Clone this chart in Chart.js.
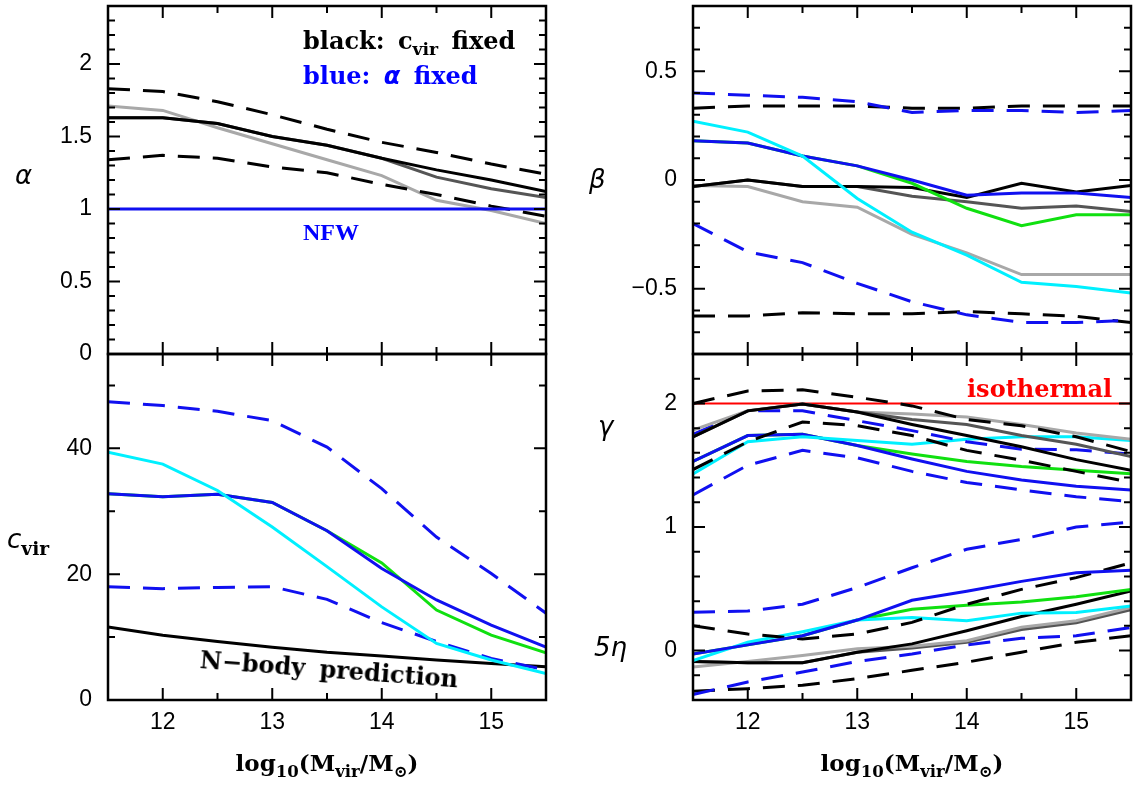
<!DOCTYPE html>
<html>
<head>
<meta charset="utf-8">
<script src="https://cdn.jsdelivr.net/npm/chart.js@4/dist/chart.umd.min.js"></script>
<style>
body { margin: 0; background: #fff; }
#page { position: relative; width: 1136px; height: 787px; overflow: hidden; background: #fff; }
canvas { position: absolute; }
.t { position: absolute; font-family: "DejaVu Serif", serif; font-weight: bold; font-size: 24px; line-height: 1; white-space: nowrap; color: #000; }
.t sub { font-size: 0.72em; vertical-align: -0.35em; line-height: 0; }
.g { font-family: "DejaVu Sans", sans-serif; font-style: italic; font-weight: normal; font-size: 26px; }
</style>
</head>
<body>
<div id="page">
  <canvas id="alphaChart" width="570" height="362" style="left:0;top:0"></canvas>
  <canvas id="cvirChart" width="570" height="447" style="left:0;top:340px"></canvas>
  <canvas id="betaChart" width="551" height="362" style="left:585px;top:0"></canvas>
  <canvas id="gammaChart" width="551" height="447" style="left:585px;top:340px"></canvas>

  <div class="t" style="left:303px;top:29px;word-spacing:5px">black: c<sub>vir</sub> fixed</div>
  <div class="t" style="left:303px;top:64px;word-spacing:5px;color:#0000ff">blue: <span style="font-family:'DejaVu Sans';font-style:italic">α</span> fixed</div>
  <div class="t" style="left:303px;top:220px;color:#0000ff;font-family:'Liberation Serif',serif;font-size:24px">NFW</div>
  <div class="t" style="left:200px;top:648px;word-spacing:6px;transform:rotate(4.3deg);transform-origin:left center">N−body prediction</div>
  <div class="t" style="left:967px;top:377px;color:#ff0000">isothermal</div>
  <div class="t" style="left:177px;top:751px;width:300px;text-align:center;font-size:23px">log<sub>10</sub>(M<sub>vir</sub>/M<sub>⊙</sub>)</div>
  <div class="t" style="left:762px;top:751px;width:300px;text-align:center;font-size:23px">log<sub>10</sub>(M<sub>vir</sub>/M<sub>⊙</sub>)</div>
  <div class="t g" style="left:15px;top:162px">α</div>
  <div class="t g" style="left:7px;top:526px">c<sub style="font-family:'DejaVu Serif';font-style:normal;font-weight:bold">vir</sub></div>
  <div class="t g" style="left:589px;top:166px">β</div>
  <div class="t g" style="left:598px;top:413px">γ</div>
  <div class="t g" style="left:594px;top:634px">5η</div>
</div>
<script>
// log10(Mvir/Msun) sample points
const mass = [11.5, 12, 12.5, 13, 13.5, 14, 14.5, 15, 15.5];
const massTicks = [12, 13, 14, 15];

// alpha panel
const alphaDashHi   = [1.83, 1.81, 1.74, 1.65, 1.55, 1.46, 1.39, 1.31, 1.24];
const alphaBlack    = [1.63, 1.63, 1.59, 1.50, 1.44, 1.35, 1.27, 1.20, 1.12];
const alphaDarkGray = [1.63, 1.63, 1.59, 1.50, 1.44, 1.35, 1.22, 1.14, 1.08];
const alphaLightGray= [1.71, 1.68, 1.56, 1.45, 1.34, 1.23, 1.06, 0.99, 0.90];
const alphaDashLo   = [1.34, 1.37, 1.35, 1.29, 1.25, 1.17, 1.10, 1.02, 0.95];
const alphaNFW      = [1, 1, 1, 1, 1, 1, 1, 1, 1];
const alphaTicks = [0, 0.5, 1, 1.5, 2];

// concentration panel
const cvirBlueDashHi = [47.4, 46.8, 45.9, 44.4, 40.2, 33.6, 25.9, 20.1, 13.8];
const cvirCyan       = [39.4, 37.5, 33.3, 27.5, 21.2, 14.8, 9.0, 6.35, 4.2];
const cvirBlue       = [32.8, 32.3, 32.7, 31.4, 26.9, 20.9, 15.9, 11.9, 8.4];
const cvirGreen      = [32.8, 32.3, 32.7, 31.4, 26.9, 21.8, 14.3, 10.3, 7.5];
const cvirBlueDashLo = [18.0, 17.7, 17.9, 18.0, 16.0, 12.3, 9.3, 6.6, 4.8];
const cvirNbody      = [11.6, 10.3, 9.3, 8.4, 7.6, 7.0, 6.35, 5.8, 5.3];
const cvirTicks = [0, 20, 40];

// beta panel
const betaBlueDashHi  = [0.40, 0.39, 0.38, 0.36, 0.31, 0.32, 0.32, 0.31, 0.32];
const betaBlackDashHi = [0.33, 0.34, 0.34, 0.34, 0.33, 0.33, 0.34, 0.34, 0.34];
const betaCyan        = [0.27, 0.22, 0.11, -0.085, -0.24, -0.345, -0.47, -0.49, -0.52];
const betaBlue        = [0.18, 0.17, 0.11, 0.065, 0.0, -0.07, -0.06, -0.06, -0.08];
const betaGreen       = [0.18, 0.17, 0.11, 0.065, -0.015, -0.13, -0.21, -0.16, -0.16];
const betaBlack       = [-0.03, 0.0, -0.03, -0.03, -0.035, -0.08, -0.015, -0.055, -0.025];
const betaDarkGray    = [-0.03, 0.0, -0.03, -0.03, -0.075, -0.10, -0.13, -0.12, -0.145];
const betaLightGray   = [-0.025, -0.03, -0.10, -0.125, -0.25, -0.335, -0.435, -0.435, -0.435];
const betaBlueDashLo  = [-0.20, -0.33, -0.38, -0.475, -0.56, -0.62, -0.655, -0.655, -0.645];
const betaBlackDashLo = [-0.625, -0.625, -0.61, -0.615, -0.615, -0.605, -0.615, -0.627, -0.655];
const betaTicks = [-0.5, 0, 0.5];

// gamma panel
const gammaIso         = [2, 2, 2, 2, 2, 2, 2, 2, 2];
const gammaBlackDashHi = [2.00, 2.10, 2.11, 2.05, 1.98, 1.87, 1.82, 1.73, 1.61];
const gammaLightGray   = [1.785, 1.94, 1.995, 1.93, 1.915, 1.89, 1.83, 1.76, 1.71];
const gammaBlack       = [1.73, 1.94, 1.995, 1.93, 1.83, 1.74, 1.65, 1.545, 1.46];
const gammaDarkGray    = [1.73, 1.94, 1.995, 1.93, 1.87, 1.83, 1.74, 1.67, 1.57];
const gammaBlueDashHi  = [1.75, 1.94, 1.94, 1.86, 1.78, 1.69, 1.63, 1.625, 1.59];
const gammaBlackDashLo = [1.465, 1.69, 1.85, 1.82, 1.74, 1.62, 1.54, 1.45, 1.36];
const gammaBlue        = [1.53, 1.74, 1.75, 1.66, 1.55, 1.45, 1.38, 1.33, 1.30];
const gammaCyan        = [1.43, 1.69, 1.73, 1.70, 1.67, 1.71, 1.73, 1.73, 1.70];
const gammaGreen       = [1.53, 1.74, 1.75, 1.66, 1.59, 1.53, 1.49, 1.46, 1.43];
const gammaBlueDashLo  = [1.26, 1.50, 1.62, 1.56, 1.45, 1.36, 1.30, 1.245, 1.205];

// 5 eta (same panel)
const etaBlueDashHi  = [0.31, 0.32, 0.375, 0.51, 0.67, 0.82, 0.90, 1.00, 1.04];
const etaBlue        = [-0.027, 0.046, 0.12, 0.247, 0.407, 0.48, 0.56, 0.63, 0.65];
const etaBlackDashHi = [0.20, 0.134, 0.094, 0.134, 0.228, 0.375, 0.495, 0.59, 0.71];
const etaGreen       = [-0.027, 0.046, 0.12, 0.247, 0.335, 0.367, 0.394, 0.436, 0.495];
const etaCyan        = [-0.08, 0.067, 0.153, 0.247, 0.268, 0.241, 0.303, 0.308, 0.361];
const etaBlack       = [-0.088, -0.099, -0.099, -0.013, 0.054, 0.161, 0.276, 0.375, 0.482];
const etaDarkGray    = [-0.088, -0.099, -0.099, -0.013, 0.02, 0.067, 0.17, 0.225, 0.33];
const etaLightGray   = [-0.134, -0.088, -0.04, 0.014, 0.035, 0.08, 0.188, 0.241, 0.348];
const etaBlueDashLo  = [-0.356, -0.254, -0.174, -0.088, -0.027, 0.046, 0.099, 0.12, 0.187];
const etaBlackDashLo = [-0.33, -0.308, -0.281, -0.227, -0.16, -0.094, -0.013, 0.067, 0.12];
const gammaTicks = [0, 1, 2];

const BLUE = '#1010f0', CYAN = '#00f0ff', GREEN = '#10e010',
      LGRAY = '#a8a8a8', DGRAY = '#555555', BLACK = '#000000', RED = '#ff0000';
const DASH = [22, 13];

function line(data, color, dashed, width) {
    return {
        data: data.map((v, i) => ({x: mass[i], y: v})),
        borderColor: color,
        borderWidth: width || 3,
        borderDash: dashed ? DASH : [],
        pointRadius: 0,
        tension: 0,
        fill: false
    };
}

function steps(a, b, s) {
    let out = [];
    for (let v = a; v <= b + 1e-9; v += s) out.push(Math.round(v * 1000) / 1000);
    return out;
}

function near(list, v) {
    return list.some(function (m) { return Math.abs(m - v) < 1e-6; });
}

function noPad(s) {
    s.paddingTop = 0; s.paddingBottom = 0; s.paddingLeft = 0; s.paddingRight = 0;
}

// frame and inward tick marks on all four sides
function frameTicks(yMinor, yMajor) {
    const xMinor = steps(11.5, 15.5, 0.5);
    return {
        id: 'frameTicks',
        afterDatasetsDraw(chart) {
            const ctx = chart.ctx, a = chart.chartArea;
            const xs = chart.scales.x, ys = chart.scales.y;
            ctx.save();
            ctx.setLineDash([]);
            ctx.strokeStyle = '#000';
            ctx.lineWidth = 2;
            ctx.beginPath();
            xMinor.forEach(function (v) {
                let px = xs.getPixelForValue(v);
                let len = near(massTicks, v) ? 12 : 7;
                ctx.moveTo(px, a.bottom); ctx.lineTo(px, a.bottom - len);
                ctx.moveTo(px, a.top); ctx.lineTo(px, a.top + len);
            });
            yMinor.forEach(function (v) {
                let py = ys.getPixelForValue(v);
                let len = near(yMajor, v) ? 12 : 7;
                ctx.moveTo(a.left, py); ctx.lineTo(a.left + len, py);
                ctx.moveTo(a.right, py); ctx.lineTo(a.right - len, py);
            });
            ctx.stroke();
            ctx.lineWidth = 2.5;
            ctx.strokeRect(a.left, a.top, a.right - a.left, a.bottom - a.top);
            ctx.restore();
        }
    };
}

function makePanel(id, cfg) {
    const tickFont = {family: '"Liberation Sans", Arial, sans-serif', size: 23};
    new Chart(document.getElementById(id), {
        type: 'line',
        data: {datasets: cfg.datasets},
        options: {
            responsive: false,
            animation: false,
            events: [],
            layout: {padding: cfg.padding},
            plugins: {
                legend: {display: false},
                tooltip: {enabled: false}
            },
            scales: {
                x: {
                    type: 'linear', min: 11.5, max: 15.5,
                    grid: {display: false, drawTicks: false},
                    border: {display: false},
                    ticks: {display: cfg.xLabels, color: '#000', font: tickFont, padding: 9,
                            autoSkip: false, maxRotation: 0},
                    afterBuildTicks: function (s) { s.ticks = massTicks.map(v => ({value: v})); },
                    afterFit: function (s) { s.height = cfg.xLabels ? 87 : 0; noPad(s); }
                },
                y: {
                    type: 'linear', min: cfg.yMin, max: cfg.yMax,
                    grid: {display: false, drawTicks: false},
                    border: {display: false},
                    ticks: {color: '#000', font: tickFont, padding: 16, autoSkip: false,
                            callback: v => (v < 0 ? '−' + Math.abs(v) : String(v))},
                    afterBuildTicks: function (s) { s.ticks = cfg.yTicks.map(v => ({value: v})); },
                    afterFit: function (s) { s.width = 108; noPad(s); }
                }
            }
        },
        plugins: [frameTicks(cfg.yMinor, cfg.yTicks)]
    });
}

makePanel('alphaChart', {
    padding: {left: 0, top: 6, right: 24, bottom: 8},
    xLabels: false, yMin: 0, yMax: 2.4, yTicks: alphaTicks, yMinor: steps(0, 2.4, 0.1),
    datasets: [
        line(alphaNFW, BLUE, false),
        line(alphaBlack, BLACK, false),
        line(alphaDashHi, BLACK, true),
        line(alphaDashLo, BLACK, true),
        line(alphaDarkGray, DGRAY, false),
        line(alphaLightGray, LGRAY, false)
    ]
});

makePanel('cvirChart', {
    padding: {left: 0, top: 14, right: 24, bottom: 0},
    xLabels: true, yMin: 0, yMax: 55, yTicks: cvirTicks, yMinor: steps(0, 50, 10),
    datasets: [
        line(cvirCyan, CYAN, false),
        line(cvirBlue, BLUE, false),
        line(cvirGreen, GREEN, false),
        line(cvirBlueDashHi, BLUE, true),
        line(cvirBlueDashLo, BLUE, true),
        line(cvirNbody, BLACK, false)
    ]
});

makePanel('betaChart', {
    padding: {left: 0, top: 6, right: 5, bottom: 8},
    xLabels: false, yMin: -0.8, yMax: 0.8, yTicks: betaTicks, yMinor: steps(-0.8, 0.8, 0.1),
    datasets: [
        line(betaBlueDashHi, BLUE, true),
        line(betaBlackDashHi, BLACK, true),
        line(betaCyan, CYAN, false),
        line(betaBlue, BLUE, false),
        line(betaGreen, GREEN, false),
        line(betaBlack, BLACK, false),
        line(betaDarkGray, DGRAY, false),
        line(betaLightGray, LGRAY, false),
        line(betaBlueDashLo, BLUE, true),
        line(betaBlackDashLo, BLACK, true)
    ]
});

makePanel('gammaChart', {
    padding: {left: 0, top: 14, right: 5, bottom: 0},
    xLabels: true, yMin: -0.4, yMax: 2.4, yTicks: gammaTicks, yMinor: steps(-0.4, 2.4, 0.2),
    datasets: [
        line(gammaBlackDashHi, BLACK, true),
        line(gammaBlack, BLACK, false),
        line(gammaDarkGray, DGRAY, false),
        line(gammaLightGray, LGRAY, false),
        line(gammaBlueDashHi, BLUE, true),
        line(gammaBlackDashLo, BLACK, true),
        line(gammaCyan, CYAN, false),
        line(gammaBlue, BLUE, false),
        line(gammaGreen, GREEN, false),
        line(gammaBlueDashLo, BLUE, true),
        line(gammaIso, RED, false, 2),
        line(etaBlueDashHi, BLUE, true),
        line(etaBlue, BLUE, false),
        line(etaBlackDashHi, BLACK, true),
        line(etaCyan, CYAN, false),
        line(etaGreen, GREEN, false),
        line(etaBlack, BLACK, false),
        line(etaLightGray, LGRAY, false),
        line(etaDarkGray, DGRAY, false),
        line(etaBlueDashLo, BLUE, true),
        line(etaBlackDashLo, BLACK, true)
    ]
});
</script>
</body>
</html>
